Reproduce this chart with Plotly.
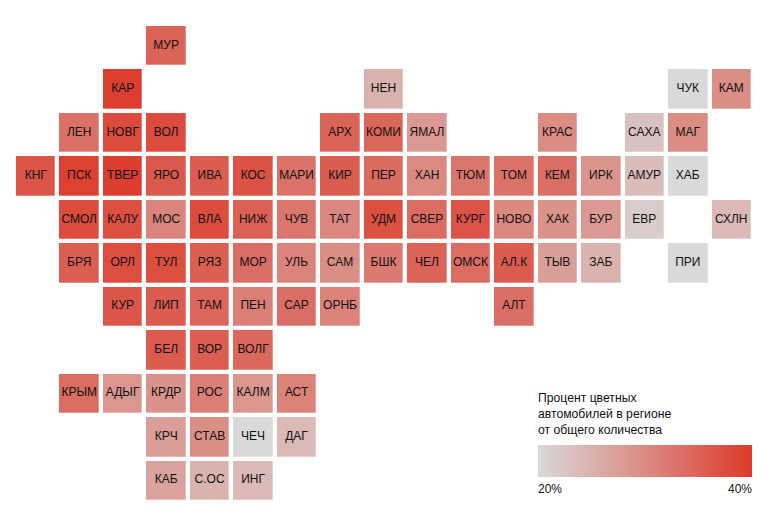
import plotly.graph_objects as go

# Плиточная карта регионов: название, колонка, ряд, процент цветных автомобилей
regions = [
    "МУР",
    "КАР", "НЕН", "ЧУК", "КАМ",
    "ЛЕН", "НОВГ", "ВОЛ", "АРХ", "КОМИ", "ЯМАЛ", "КРАС", "САХА", "МАГ",
    "КНГ", "ПСК", "ТВЕР", "ЯРО", "ИВА", "КОС", "МАРИ", "КИР", "ПЕР", "ХАН", "ТЮМ", "ТОМ", "КЕМ", "ИРК", "АМУР", "ХАБ",
    "СМОЛ", "КАЛУ", "МОС", "ВЛА", "НИЖ", "ЧУВ", "ТАТ", "УДМ", "СВЕР", "КУРГ", "НОВО", "ХАК", "БУР", "ЕВР", "СХЛН",
    "БРЯ", "ОРЛ", "ТУЛ", "РЯЗ", "МОР", "УЛЬ", "САМ", "БШК", "ЧЕЛ", "ОМСК", "АЛ.К", "ТЫВ", "ЗАБ", "ПРИ",
    "КУР", "ЛИП", "ТАМ", "ПЕН", "САР", "ОРНБ", "АЛТ",
    "БЕЛ", "ВОР", "ВОЛГ",
    "КРЫМ", "АДЫГ", "КРДР", "РОС", "КАЛМ", "АСТ",
    "КРЧ", "СТАВ", "ЧЕЧ", "ДАГ",
    "КАБ", "С.ОС", "ИНГ",
]
cols = [
    3,
    2, 8, 15, 16,
    1, 2, 3, 7, 8, 9, 12, 14, 15,
    0, 1, 2, 3, 4, 5, 6, 7, 8, 9, 10, 11, 12, 13, 14, 15,
    1, 2, 3, 4, 5, 6, 7, 8, 9, 10, 11, 12, 13, 14, 16,
    1, 2, 3, 4, 5, 6, 7, 8, 9, 10, 11, 12, 13, 15,
    2, 3, 4, 5, 6, 7, 11,
    3, 4, 5,
    1, 2, 3, 4, 5, 6,
    3, 4, 5, 6,
    3, 4, 5,
]
rows = [0] + [1] * 4 + [2] * 9 + [3] * 16 + [4] * 15 + [5] * 14 + [6] * 7 + [7] * 3 + [8] * 6 + [9] * 4 + [10] * 3
values = [
    35.0,
    39.5, 25.0, 20.0, 29.5,
    33.2, 38.0, 37.8, 34.8, 34.5, 28.0, 29.7, 23.0, 29.7,
    36.8, 39.3, 39.7, 36.2, 35.8, 37.0, 33.0, 35.8, 34.0, 30.0, 32.5, 33.0, 33.5, 28.7, 23.5, 20.0,
    38.0, 37.5, 30.8, 38.0, 35.2, 32.5, 30.5, 37.4, 33.8, 36.8, 30.2, 29.0, 28.0, 21.5, 24.0,
    35.5, 37.6, 37.6, 35.4, 33.5, 30.8, 29.5, 32.0, 35.0, 33.8, 35.7, 27.5, 25.0, 20.0,
    36.6, 35.8, 34.5, 31.5, 33.5, 31.0, 33.5,
    36.0, 35.6, 34.3,
    33.8, 28.5, 28.8, 31.5, 28.5, 31.0,
    27.5, 29.5, 20.0, 24.0,
    27.0, 24.8, 24.0,
]

legend_title = "Процент цветных<br>автомобилей в регионе<br>от общего количества"

FONT = "Liberation Sans, Arial, sans-serif"
TEXT = "#111111"

z = [[None] * 17 for _ in range(11)]
for r, c, v in zip(rows, cols, values):
    z[r][c] = v

fig = go.Figure()
fig.add_trace(go.Heatmap(
    z=z,
    x=list(range(17)),
    y=list(range(11)),
    zmin=20,
    zmax=40,
    xgap=4.3,
    ygap=4.3,
    colorscale=[[0, "#d9d9d9"], [1, "#dc3b2b"]],
    hoverongaps=False,
    colorbar=dict(
        orientation="h",
        lenmode="pixels",
        len=214,
        thickness=32,
        x=0.709,
        xanchor="left",
        y=0.12,
        yanchor="top",
        xpad=0,
        ypad=0,
        outlinewidth=0,
        ticks="",
        showticklabels=False,
    ),
))
fig.add_trace(go.Scatter(
    x=cols,
    y=rows,
    text=regions,
    mode="text",
    textposition="middle center",
    textfont=dict(family=FONT, size=12, color=TEXT),
    hoverinfo="skip",
    showlegend=False,
))

fig.add_annotation(
    text=legend_title, xref="paper", yref="paper", x=0.7065, y=0.132,
    xanchor="left", yanchor="bottom", align="left", showarrow=False,
    font=dict(family=FONT, size=12.2, color=TEXT),
)
fig.add_annotation(
    text="20%", xref="paper", yref="paper", x=0.7065, y=0.027,
    xanchor="left", yanchor="middle", showarrow=False,
    font=dict(family=FONT, size=12, color=TEXT),
)
fig.add_annotation(
    text="40%", xref="paper", yref="paper", x=1.001, y=0.027,
    xanchor="right", yanchor="middle", showarrow=False,
    font=dict(family=FONT, size=12, color=TEXT),
)

# страница добавляет отступ body 8px, поэтому размер и поля меньше окна
fig.update_layout(
    width=763,
    height=508,
    margin=dict(l=5.9, r=17.9, t=15.9, b=13.5),
    plot_bgcolor="white",
    paper_bgcolor="white",
    xaxis=dict(visible=False, range=[-0.5, 16.5]),
    yaxis=dict(visible=False, range=[10.5, -0.5]),
)

fig.write_html("out.html")
